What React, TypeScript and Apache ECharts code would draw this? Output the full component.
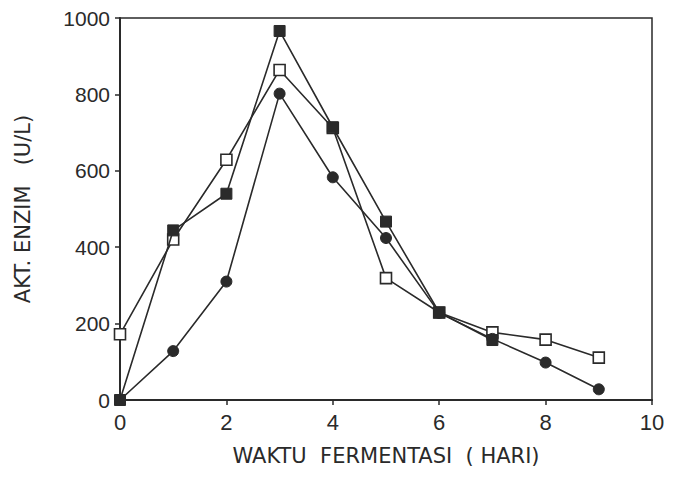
import React, { useEffect, useRef } from "react";
import * as echarts from "echarts";

const days = [0, 1, 2, 3, 4, 5, 6, 7, 8, 9];
const filledSquare = [0, 444, 540, 966, 714, 467, 229, 157];
const openSquare = [172, 420, 629, 864, 712, 319, 229, 177, 158, 111];
const filledCircle = [0, 128, 310, 802, 583, 424, 228, 160, 98, 28];

const xTitle = "WAKTU  FERMENTASI  ( HARI)";
const yTitle = "AKT. ENZIM   (U/L)";

const ink = "#2a2a2a";
const tickFont = "Liberation Sans";
const titleFont = "DejaVu Sans";

function pairs(vals: number[]) {
  return vals.map((v, i) => [days[i], v]);
}

export default function App() {
  const ref = useRef<HTMLDivElement>(null);
  useEffect(() => {
    if (!ref.current) return;
    const chart = echarts.init(ref.current, undefined, { renderer: "svg" });
    const lineStyle = { color: ink, width: 1.6 };
    chart.setOption({
      animation: false,
      backgroundColor: "#ffffff",
      grid: {
        left: 120,
        right: 22,
        top: 18,
        bottom: 79,
        show: true,
        borderColor: ink,
        borderWidth: 1.5,
      },
      xAxis: {
        type: "value",
        min: 0,
        max: 10,
        interval: 2,
        name: xTitle,
        nameLocation: "middle",
        nameGap: 45,
        nameTextStyle: { color: ink, fontSize: 21, fontFamily: titleFont },
        axisLine: { lineStyle: { color: ink, width: 2 } },
        axisTick: { inside: false, length: 5, lineStyle: { color: ink, width: 1.5 } },
        axisLabel: { color: ink, fontSize: 22, fontFamily: tickFont, margin: 11 },
        splitLine: { show: false },
      },
      yAxis: {
        type: "value",
        min: 0,
        max: 1000,
        interval: 200,
        name: yTitle,
        nameLocation: "middle",
        nameGap: 87,
        nameTextStyle: { color: ink, fontSize: 21, fontFamily: titleFont },
        axisLine: { lineStyle: { color: ink, width: 2 } },
        axisTick: { inside: false, length: 5, lineStyle: { color: ink, width: 1.5 } },
        axisLabel: {
          color: ink,
          fontSize: 21,
          fontFamily: tickFont,
          margin: 10,
          formatter: (v: number) => String(v),
        },
        splitLine: { show: false },
      },
      series: [
        {
          type: "line",
          name: "Filled square",
          data: pairs(filledSquare),
          symbol: "rect",
          symbolSize: 11,
          itemStyle: { color: ink, borderColor: ink, borderWidth: 1 },
          lineStyle,
          z: 3,
        },
        {
          type: "line",
          name: "Open square",
          data: pairs(openSquare),
          symbol: "rect",
          symbolSize: 11,
          itemStyle: { color: "#ffffff", borderColor: ink, borderWidth: 1.6 },
          lineStyle,
          z: 2,
        },
        {
          type: "line",
          name: "Filled circle",
          data: pairs(filledCircle),
          symbol: "circle",
          symbolSize: 11,
          itemStyle: { color: ink, borderColor: ink, borderWidth: 1 },
          lineStyle,
          z: 2,
        },
      ],
    });
    return () => chart.dispose();
  }, []);
  return <div ref={ref} style={{ width: 674, height: 479, margin: -8 }} />;
}
